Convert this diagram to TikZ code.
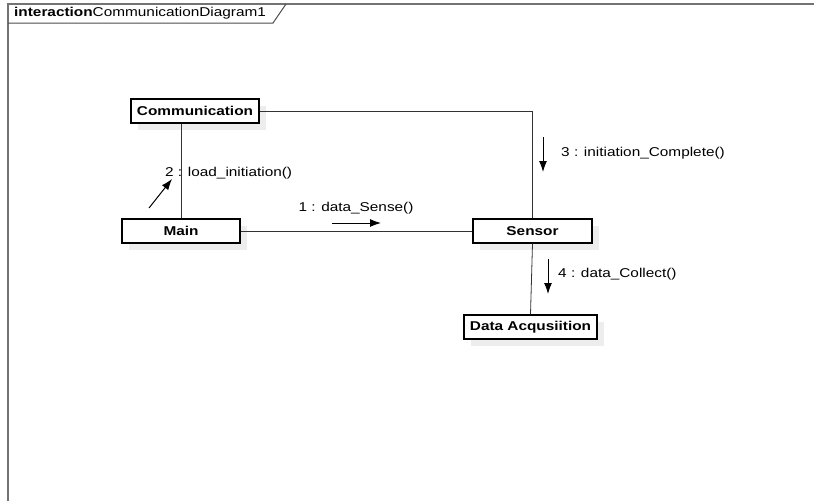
\documentclass[tikz,border=0pt]{standalone}
\usepackage{fontspec}
\setmainfont{Liberation Sans}[FakeStretch=1.2]
\usetikzlibrary{arrows.meta,shadows}

\begin{document}
\begin{tikzpicture}[x=1pt,y=-1pt,font=\fontsize{12.8}{15}\selectfont]

\tikzset{
  frameline/.style={draw=black!55, line width=2pt},
  object/.style={draw, fill=white, line width=1.2pt, minimum height=24pt, inner sep=0pt, font=\fontsize{12.8}{15}\selectfont\bfseries,
    drop shadow={shadow xshift=7pt, shadow yshift=-7pt, fill=black!7, opacity=1}},
  link/.style={draw=black!80, line width=0.8pt},
  message/.style={-{Latex[length=11pt,width=8pt]}, line width=1pt},
  msglabel/.style={inner sep=0pt}
}

\useasboundingbox (0,0) rectangle (814,501);
\draw[frameline] (8,501) -- (8,4) -- (814,4);
\draw[black!70, line width=1pt] (8,23) -- (273,23) -- (286,4);
\node[msglabel, anchor=west] (Title) at (14,13.5) {\textbf{interaction}CommunicationDiagram1};

\node[object, minimum width=128pt] (Communication) at (195,111) {Communication};
\node[object, minimum width=118pt] (Main) at (181,231) {Main};
\node[object, minimum width=119pt] (Sensor) at (532.5,231) {Sensor};
\node[object, minimum width=133pt] (DataAcq) at (530.5,327) {Data Acqusiition};

\draw[link] (Main.north) -- (Main.north |- Communication.south);
\draw[link] (Communication.east) -| (Sensor.north);
\draw[link] (Main) -- (Sensor);
\draw[link] (Sensor.south) -- (DataAcq.north);

\coordinate (m1a) at (332,223);
\coordinate (m1b) at (381,223);
\coordinate (m2a) at (149,208);
\coordinate (m2b) at (172,179);
\coordinate (m3a) at (543,137);
\coordinate (m3b) at (543,172);
\coordinate (m4a) at (548,259);
\coordinate (m4b) at (548,294);
\draw[message] (m1a) -- (m1b);
\draw[message] (m2a) -- (m2b);
\draw[message] (m3a) -- (m3b);
\draw[message] (m4a) -- (m4b);
\node[msglabel] (L1) at (356,208) {1 : data\_Sense()};
\node[msglabel, anchor=west] (L2) at (165,173) {2 : load\_initiation()};
\node[msglabel, anchor=west] (L3) at (561,153) {3 : initiation\_Complete()};
\node[msglabel, anchor=west] (L4) at (558,274) {4 : data\_Collect()};

\end{tikzpicture}
\end{document}
